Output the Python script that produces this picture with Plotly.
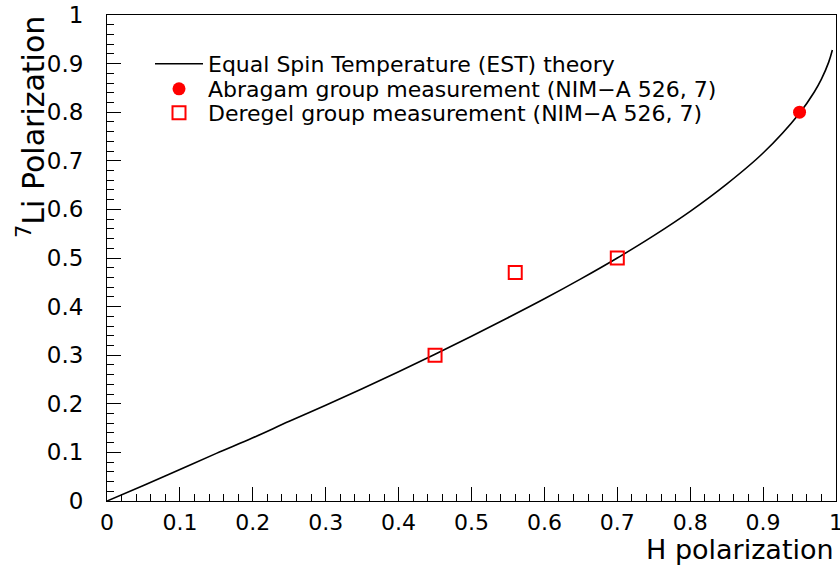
import plotly.graph_objects as go

# EST theory curve
est_h = [0.0, 0.05, 0.10, 0.15, 0.20, 0.25, 0.30, 0.35, 0.40, 0.45, 0.50, 0.55,
         0.60, 0.65, 0.70, 0.75, 0.80, 0.85, 0.90, 0.95, 0.97, 0.98, 0.99, 0.995]
est_li = [0.0, 0.032, 0.065, 0.098, 0.130, 0.164, 0.197, 0.231, 0.266, 0.302, 0.339, 0.377,
          0.416, 0.457, 0.500, 0.546, 0.596, 0.652, 0.716, 0.798, 0.841, 0.868, 0.903, 0.928]

abragam_h = [0.95]
abragam_li = [0.80]

deregel_h = [0.45, 0.56, 0.70]
deregel_li = [0.30, 0.47, 0.50]

tick_vals = [0, 0.1, 0.2, 0.3, 0.4, 0.5, 0.6, 0.7, 0.8, 0.9, 1]
tick_text = ["0", "0.1", "0.2", "0.3", "0.4", "0.5", "0.6", "0.7", "0.8", "0.9", "1"]

FONT = "DejaVu Sans"

fig = go.Figure()
fig.add_trace(go.Scatter(x=est_h, y=est_li, mode="lines", line=dict(color="black", width=1.6),
                         name="Equal Spin Temperature (EST) theory", line_shape="spline",
                         legend="legend"))
fig.add_trace(go.Scatter(x=abragam_h, y=abragam_li, mode="markers",
                         marker=dict(symbol="circle", size=13, color="#ff0000"),
                         name="Abragam group measurement (NIM\u2212A 526, 7)",
                         legend="legend2"))
fig.add_trace(go.Scatter(x=deregel_h, y=deregel_li, mode="markers",
                         marker=dict(symbol="square-open", size=13, color="#ff0000",
                                     line=dict(width=2, color="#ff0000")),
                         name="Deregel group measurement (NIM\u2212A 526, 7)",
                         legend="legend3"))

axis_common = dict(range=[0, 1], showgrid=False, zeroline=False, showline=True,
                   linecolor="black", linewidth=1, mirror=True, ticks="inside",
                   ticklen=14, tickwidth=1, tickcolor="black", automargin=False,
                   tickvals=tick_vals, ticktext=tick_text, ticklabeloverflow="allow",
                   minor=dict(ticks="inside", ticklen=7, dtick=0.02, tickcolor="black", tickwidth=1))

leg_common = dict(x=(150 - 107) / 729, xanchor="left", yanchor="middle",
                  bgcolor="rgba(0,0,0,0)", itemwidth=48,
                  font=dict(family=FONT, size=22, color="black"))

fig.update_layout(
    width=840, height=567,
    margin=dict(l=107, r=4, t=15, b=66, autoexpand=False),
    plot_bgcolor="white", paper_bgcolor="white",
    xaxis=dict(**axis_common, ticklabelstandoff=2,
               tickfont=dict(family=FONT, size=22, color="black")),
    yaxis=dict(**axis_common, ticklabelstandoff=18,
               tickfont=dict(family=FONT, size=23, color="black")),
    showlegend=True,
    legend=dict(**leg_common, y=(501 - 64) / 486),
    legend2=dict(**leg_common, y=(501 - 89) / 486),
    legend3=dict(**leg_common, y=(501 - 113) / 486),
    annotations=[
        dict(text="H polarization", xref="paper", yref="paper", x=1.0, y=(501 - 549.5) / 486,
             xanchor="right", yanchor="middle", showarrow=False,
             font=dict(family=FONT, size=27, color="black")),
        dict(text="<sup>7</sup>Li Polarization", xref="paper", yref="paper", x=(31 - 107) / 729,
             y=(501 - 14) / 486, xanchor="center", yanchor="top", textangle=-90, showarrow=False,
             font=dict(family=FONT, size=30, color="black")),
    ],
)

fig.write_html("out.html")
